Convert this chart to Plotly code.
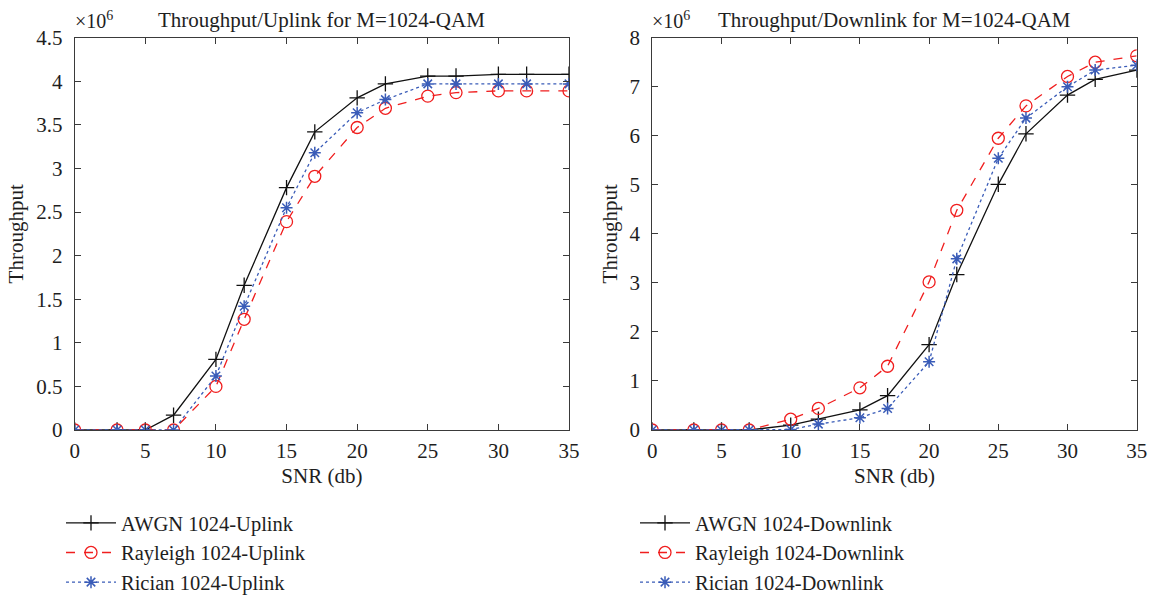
import plotly.graph_objects as go

snr = [0, 3, 5, 7, 10, 12, 15, 17, 20, 22, 25, 27, 30, 32, 35]

awgn_up = [0, 0, 0, 0.17, 0.81, 1.66, 2.78, 3.42, 3.81, 3.97, 4.06, 4.06, 4.08, 4.08, 4.08]
rayleigh_up = [0, 0, 0, 0, 0.50, 1.27, 2.39, 2.91, 3.47, 3.69, 3.83, 3.87, 3.89, 3.89, 3.89]
rician_up = [0, 0, 0, 0, 0.62, 1.42, 2.55, 3.18, 3.64, 3.79, 3.97, 3.97, 3.97, 3.97, 3.97]

awgn_down = [0, 0, 0, 0, 0.10, 0.22, 0.41, 0.70, 1.74, 3.17, 5.01, 6.04, 6.83, 7.15, 7.34]
rayleigh_down = [0, 0, 0, 0, 0.22, 0.44, 0.86, 1.30, 3.02, 4.48, 5.95, 6.61, 7.21, 7.50, 7.63]
rician_down = [0, 0, 0, 0, 0.01, 0.12, 0.25, 0.44, 1.39, 3.49, 5.54, 6.36, 7.00, 7.34, 7.44]

SCALE = 1e6
FONT = "Liberation Serif"
BLACK = "#111111"
RED = "#f01e1e"
BLUE = "#3a5cb8"
AXC = "#3a3a3a"
TXT = "#1e1e1e"

W, H = 1154, 599

fig = go.Figure()

def add_series(xa, ya, leg, names, data):
    styles = [
        dict(color=BLACK, dash="solid", symbol="cross-thin-open", size=11, mlw=1.3),
        dict(color=RED, dash="dash", symbol="circle-open", size=12, mlw=1.3),
        dict(color=BLUE, dash="dot", symbol="asterisk-open", size=10, mlw=1.5),
    ]
    for name, vals, st in zip(names, data, styles):
        fig.add_trace(go.Scatter(
            x=snr, y=[v * SCALE for v in vals], name=name, mode="lines+markers",
            xaxis=xa, yaxis=ya, legend=leg,
            line=dict(color=st["color"], dash=st["dash"], width=1.3),
            marker=dict(symbol=st["symbol"], size=st["size"], color=st["color"],
                        line=dict(color=st["color"], width=st["mlw"])),
        ))

add_series("x", "y", "legend",
           ["AWGN 1024-Uplink", "Rayleigh 1024-Uplink", "Rician 1024-Uplink"],
           [awgn_up, rayleigh_up, rician_up])
add_series("x2", "y2", "legend2",
           ["AWGN 1024-Downlink", "Rayleigh 1024-Downlink", "Rician 1024-Downlink"],
           [awgn_down, rayleigh_down, rician_down])

L1, R1 = 74.7, 569.0
L2, R2 = 652.3, 1136.7
TOP, BOT = 37.7, 430.0

def px_x(p):
    return p / W

def px_y(p):
    return 1 - p / H

xcommon = dict(range=[0, 35], tickvals=[0, 5, 10, 15, 20, 25, 30, 35],
               showline=True, linecolor=AXC, linewidth=1.2, mirror="ticks",
               ticks="inside", ticklen=6, tickcolor=AXC, tickwidth=1.2,
               showgrid=False, zeroline=False, ticklabelstandoff=2, automargin=False,
               tickfont=dict(family=FONT, size=21, color=TXT),
               title=dict(text="SNR (db)", font=dict(family=FONT, size=21, color=TXT), standoff=6))
ycommon = dict(showline=True, linecolor=AXC, linewidth=1.2, mirror="ticks",
               ticks="inside", ticklen=6, tickcolor=AXC, tickwidth=1.2,
               showgrid=False, zeroline=False, ticklabelstandoff=7, automargin=False,
               tickfont=dict(family=FONT, size=21, color=TXT),
               title=dict(text="Throughput", font=dict(family=FONT, size=21, color=TXT), standoff=6))

up_ticks = [0, 0.5, 1, 1.5, 2, 2.5, 3, 3.5, 4, 4.5]
down_ticks = [0, 1, 2, 3, 4, 5, 6, 7, 8]

fig.update_layout(
    width=W, height=H, margin=dict(l=0, r=0, t=0, b=0, autoexpand=False),
    paper_bgcolor="white", plot_bgcolor="white",
    font=dict(family=FONT, color=TXT),
    xaxis=dict(domain=[px_x(L1), px_x(R1)], anchor="y", **xcommon),
    yaxis=dict(domain=[px_y(BOT), px_y(TOP)], anchor="x", range=[0, 4.5 * SCALE],
               tickvals=[t * SCALE for t in up_ticks], ticktext=[f"{t:g}" for t in up_ticks], **ycommon),
    xaxis2=dict(domain=[px_x(L2), px_x(R2)], anchor="y2", **xcommon),
    yaxis2=dict(domain=[px_y(BOT), px_y(TOP)], anchor="x2", range=[0, 8 * SCALE],
                tickvals=[t * SCALE for t in down_ticks], ticktext=[f"{t:g}" for t in down_ticks], **ycommon),
    legend=dict(x=px_x(61), y=-3 / H, xanchor="left", yanchor="bottom",
                font=dict(family=FONT, size=20.5, color=TXT), itemwidth=50,
                bgcolor="rgba(0,0,0,0)", tracegroupgap=0),
    legend2=dict(x=px_x(635), y=-3 / H, xanchor="left", yanchor="bottom",
                 font=dict(family=FONT, size=20.5, color=TXT), itemwidth=50,
                 bgcolor="rgba(0,0,0,0)", tracegroupgap=0),
    showlegend=True,
)

titles = [("Throughput/Uplink for M=1024-QAM", (L1 + R1) / 2),
          ("Throughput/Downlink for M=1024-QAM", (L2 + R2) / 2)]
for txt, cx in titles:
    fig.add_annotation(text=txt, x=px_x(cx), y=px_y(20), xref="paper", yref="paper",
                       showarrow=False, xanchor="center", yanchor="middle",
                       font=dict(family=FONT, size=21, color=TXT))
for lx in (L1, L2):
    fig.add_annotation(text="×10<sup>6</sup>", x=px_x(lx - 2), y=px_y(20), xref="paper", yref="paper",
                       showarrow=False, xanchor="left", yanchor="middle",
                       font=dict(family=FONT, size=20, color=TXT))

fig.write_html("out.html")
